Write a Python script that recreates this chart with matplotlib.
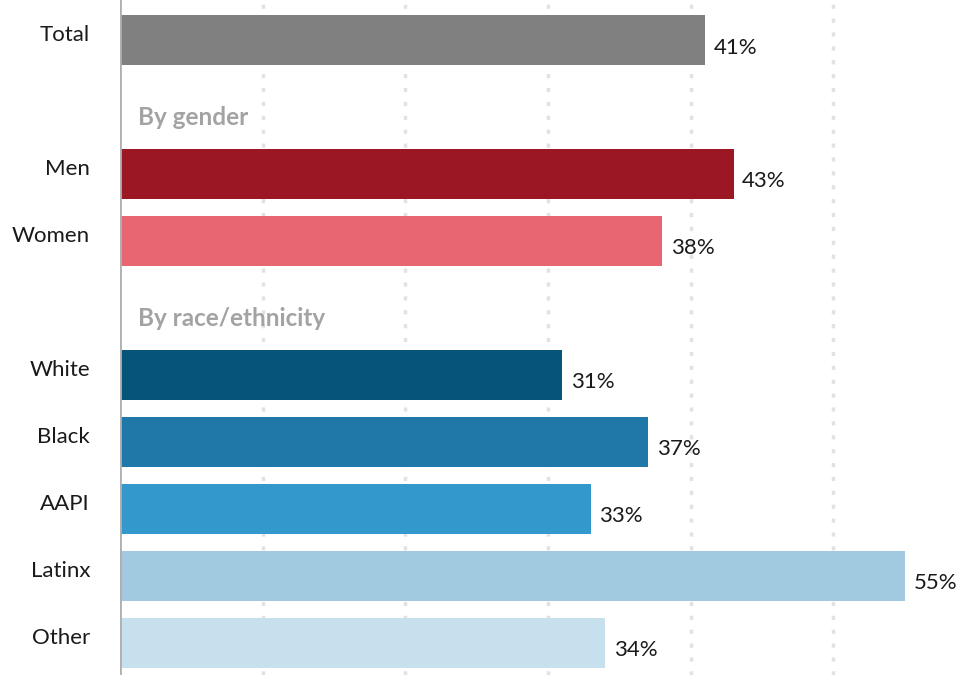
import matplotlib
matplotlib.use("Agg")
import matplotlib.pyplot as plt

# rows top to bottom; None marks a section header slot
labels = ["Total", None, "Men", "Women", None, "White", "Black", "AAPI", "Latinx", "Other"]
values = [41, None, 43, 38, None, 31, 37, 33, 55, 34]
colors = ["#808080", None, "#9b1724", "#e86572", None,
          "#065478", "#1f78a8", "#3399cc", "#a1c9df", "#c6e0ed"]
headers = {1: "By gender", 4: "By race/ethnicity"}
grid_ticks = [10, 20, 30, 40, 50]

plt.rcParams["font.family"] = ["Lato", "DejaVu Sans"]
fig = plt.figure(figsize=(9.79, 6.75), dpi=100)
ax = fig.add_axes([120 / 979, 0, 859 / 979, 1])

for x in grid_ticks:
    ax.axvline(x, color="#e2e2e2", lw=2.5, ls=(0, (1.2, 2.8)), zorder=0)

for i, (lab, v, c) in enumerate(zip(labels, values, colors)):
    if v is None:
        ax.text(1.25, i + 0.15, headers[i], ha="left", va="center",
                fontsize=17.5, fontweight="bold", color="#a3a3a3")
        continue
    ax.barh(i, v, height=0.75, color=c, zorder=2)
    ax.text(v + 0.6, i + 0.11, f"{v}%", ha="left", va="center",
            fontsize=16, color="#1a1a1a")
    ax.text(-2.1, i - 0.08, lab, ha="right", va="center",
            fontsize=16, color="#1a1a1a", clip_on=False)

ax.set_xlim(0, 60.2)
ax.set_ylim(9.48, -0.6)
ax.axvline(0, color="#b0b0b0", lw=2, zorder=3)
ax.set_xticks([])
ax.set_yticks([])
for sp in ax.spines.values():
    sp.set_visible(False)

fig.savefig("out.png", dpi=100)
